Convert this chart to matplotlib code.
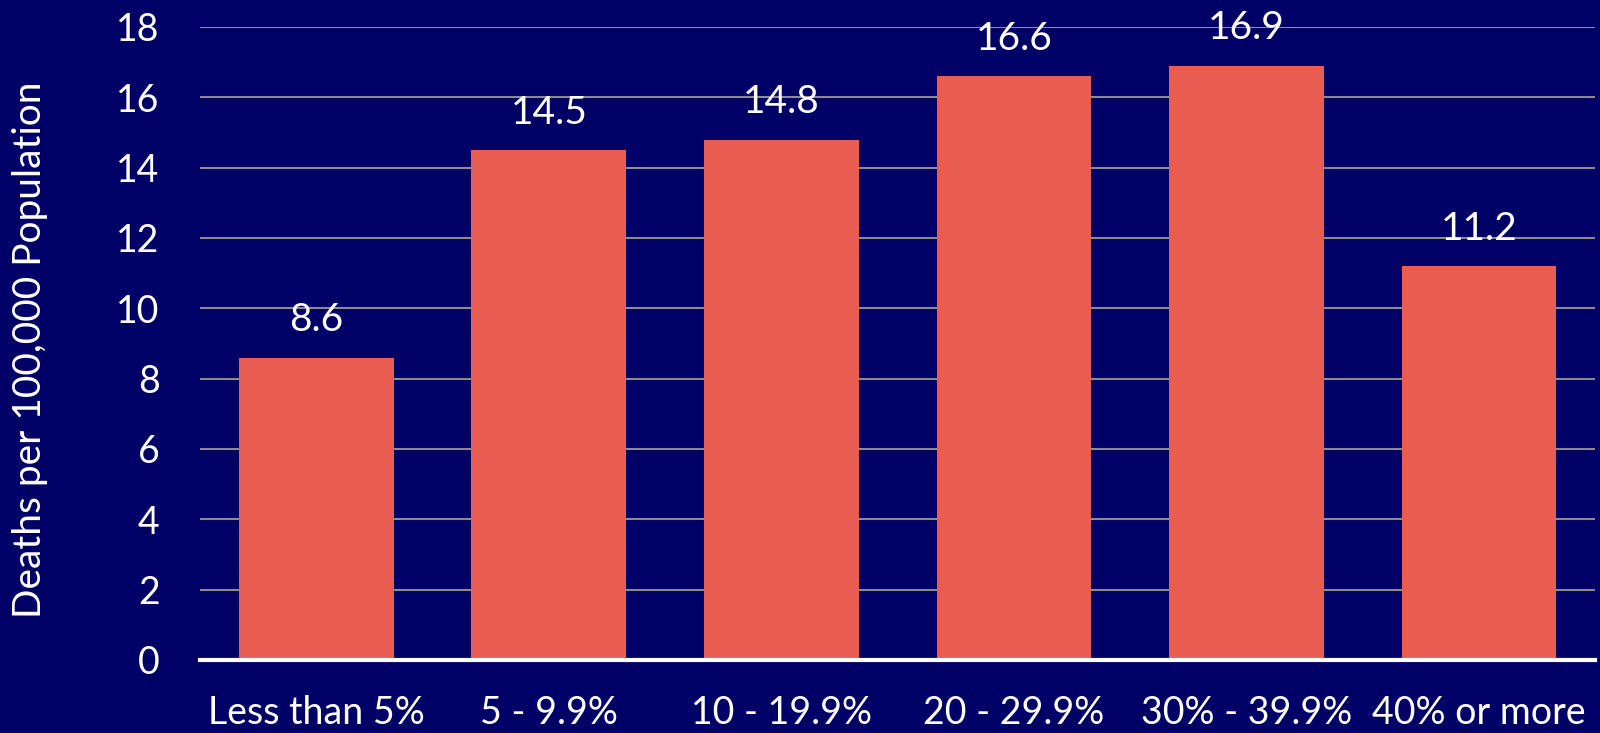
import matplotlib.pyplot as plt

# ---------------------------------
# Data
# ---------------------------------

categories = [
    "Less than 5%",
    "5 - 9.9%",
    "10 - 19.9%",
    "20 - 29.9%",
    "30% - 39.9%",
    "40% or more",
]
deaths = [8.6, 14.5, 14.8, 16.6, 16.9, 11.2]
yticks = [0, 2, 4, 6, 8, 10, 12, 14, 16, 18]

bg = "#000066"
bar_color = "#E85C51"

plt.rcParams["font.family"] = ["Lato", "DejaVu Sans"]

# ---------------------------------
# Plot
# ---------------------------------

fig = plt.figure(figsize=(16, 7.33), dpi=100, facecolor=bg)
ax = fig.add_axes([0.125, 0.0996, 0.872, 0.8636], facecolor=bg)

x = range(len(categories))
ax.bar(x, deaths, width=0.665, color=bar_color, zorder=3)

for xi, v in zip(x, deaths):
    ax.annotate(
        f"{v}",
        (xi, v),
        xytext=(0, 14),
        textcoords="offset points",
        ha="center",
        va="bottom",
        color="white",
        fontsize=28,
    )

ax.set_xlim(-0.5, len(categories) - 0.5)
ax.set_ylim(0, 18)
ax.set_yticks(yticks)
ax.set_xticks(list(x))
ax.set_xticklabels(categories)

ax.yaxis.grid(True, color="#8c8c8c", linewidth=1.5, zorder=0)
ax.set_axisbelow(True)

for side in ["top", "right", "left"]:
    ax.spines[side].set_visible(False)
ax.spines["bottom"].set_color("white")
ax.spines["bottom"].set_linewidth(3)
ax.spines["bottom"].set_zorder(4)

ax.tick_params(axis="both", length=0, colors="white", labelsize=27)
ax.tick_params(axis="x", pad=25)
ax.tick_params(axis="y", pad=29)

fig.text(0.019, 0.5225, "Deaths per 100,000 Population", color="white",
         fontsize=28, rotation=90, ha="center", va="center")

fig.savefig("out.png", dpi=100, facecolor=bg)
